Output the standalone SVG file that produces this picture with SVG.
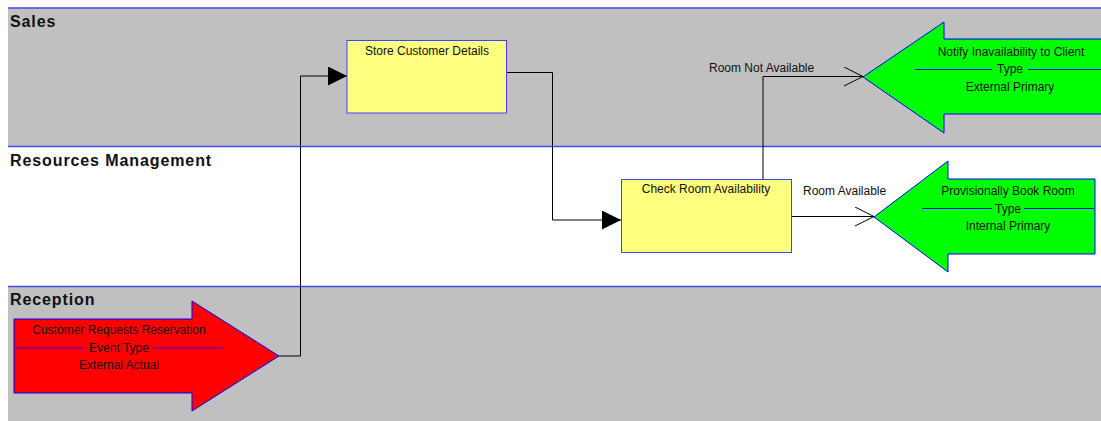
<svg xmlns="http://www.w3.org/2000/svg" width="1101" height="421" viewBox="0 0 1101 421">
<defs>
<style>
.lane-g{fill:#c0c0c0}
.lane-line{stroke:#4848f0;stroke-width:1.5}
.lane-label{font-family:"Liberation Sans",Arial,sans-serif;font-size:16px;font-weight:bold;fill:#111;letter-spacing:0.9px}
.box{fill:#ffff80;stroke:#4040ff;stroke-width:1}
.t{font-family:"Liberation Sans",Arial,sans-serif;font-size:12px;fill:#111;text-anchor:middle}
.lbl{font-family:"Liberation Sans",Arial,sans-serif;font-size:12px;fill:#111}
.green{fill:#00ff00;stroke:#0000ff;stroke-width:1}
.red{fill:#ff0000;stroke:#0000ff;stroke-width:1}
.sep{stroke:#0000ff;stroke-width:1}
.sepr{stroke:#7a00b0;stroke-width:1.5}
.conn{fill:none;stroke:#000;stroke-width:1}
</style>
<marker id="filled" markerUnits="userSpaceOnUse" markerWidth="20" markerHeight="20" refX="19" refY="9.5" orient="auto">
<path d="M0,0 L19,9.5 L0,19 Z" fill="#000"/>
</marker>
<marker id="open" markerUnits="userSpaceOnUse" markerWidth="20" markerHeight="20" refX="19" refY="9.5" orient="auto">
<path d="M0,0 L19,9.5 L0,19" fill="none" stroke="#000" stroke-width="1"/>
</marker>
</defs>
<rect width="1101" height="421" fill="#fff"/>
<g id="lanes">
<rect class="lane-g" x="8" y="8" width="1093" height="138"/>
<rect class="lane-g" x="8" y="286" width="1093" height="135"/>
<line class="lane-line" x1="8" y1="8" x2="1101" y2="8"/>
<line class="lane-line" x1="8" y1="146.5" x2="1101" y2="146.5"/>
<line class="lane-line" x1="8" y1="286.5" x2="1101" y2="286.5" stroke="#0000ff"/>
<text class="lane-label" x="10" y="27">Sales</text>
<text class="lane-label" x="10" y="166">Resources Management</text>
<text class="lane-label" x="10" y="305">Reception</text>
</g>
<g id="connectors">
<path class="conn" d="M279,356 H300.5 V76 H347" marker-end="url(#filled)"/>
<path class="conn" d="M507,72.5 H552.5 V220 H621" marker-end="url(#filled)"/>
<path class="conn" d="M763,179 V76.5 H863" marker-end="url(#open)"/>
<path class="conn" d="M792,216.5 H874" marker-end="url(#open)"/>
<text class="lbl" x="709" y="72">Room Not Available</text>
<text class="lbl" x="803" y="195">Room Available</text>
</g>
<g id="node-customer-requests">
<polygon class="red" points="14,319 192,319 192,301 279,356 192,411 192,393 14,393"/>
<text class="t" x="119" y="334">Customer Requests Reservation</text>
<line class="sepr" x1="16" y1="348" x2="85" y2="348"/>
<line class="sepr" x1="153" y1="348" x2="223" y2="348"/>
<text class="t" x="119" y="352">Event Type</text>
<text class="t" x="119" y="369">External Actual</text>
</g>
<g id="node-store">
<rect class="box" x="347" y="40.5" width="159.5" height="72.5"/>
<text class="t" x="427" y="55">Store Customer Details</text>
</g>
<g id="node-check">
<rect class="box" x="621.5" y="179.5" width="170" height="73"/>
<text class="t" x="706" y="193">Check Room Availability</text>
</g>
<g id="node-notify">
<polygon class="green" points="863,77 944,22 944,39 1110,39 1110,114 944,114 944,133"/>
<text class="t" x="1011" y="56">Notify Inavailability to Client</text>
<line class="sep" x1="915" y1="69.5" x2="992" y2="69.5"/>
<line class="sep" x1="1028" y1="69.5" x2="1101" y2="69.5"/>
<text class="t" x="1010" y="73">Type</text>
<text class="t" x="1010" y="91">External Primary</text>
</g>
<g id="node-provisionally">
<polygon class="green" points="874,217 948,161 948,179 1095,179 1095,254 948,254 948,272"/>
<text class="t" x="1008" y="195">Provisionally Book Room</text>
<line class="sep" x1="922" y1="208.5" x2="992" y2="208.5"/>
<line class="sep" x1="1024" y1="208.5" x2="1094" y2="208.5"/>
<text class="t" x="1008" y="213">Type</text>
<text class="t" x="1008" y="230">Internal Primary</text>
</g>
</svg>
